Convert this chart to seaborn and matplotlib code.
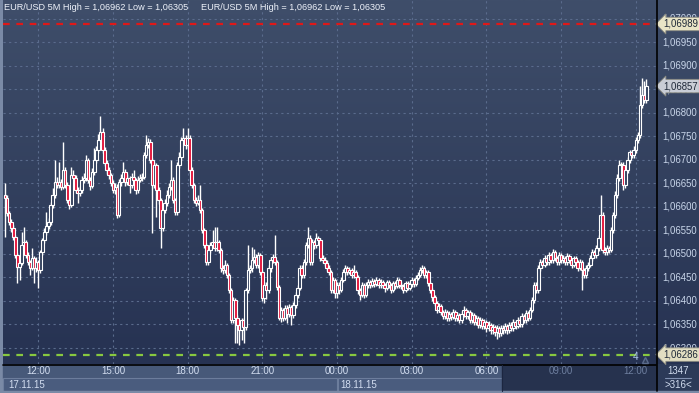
import numpy as np
import matplotlib
matplotlib.use("Agg")
import matplotlib.pyplot as plt
import seaborn as sns
from matplotlib.colors import LinearSegmentedColormap
from matplotlib.patches import Rectangle
from matplotlib.lines import Line2D

sns.set_theme(style="dark")
plt.rcParams['font.family'] = ['Liberation Sans', 'DejaVu Sans']

# ---------------- data (EUR/USD, 5 minute candles, 17.11.15 10:40 -> 18.11.15 12:25)
first_open = 1.06626
close = [1.06619,1.06587,1.06568,1.06555,1.06536,1.06498,1.06472,1.06481,1.06519,1.06526,
1.06498,1.06483,1.06470,1.06491,1.06470,1.06483,1.06466,1.06504,1.06530,1.06547,
1.06560,1.06568,1.06604,1.06626,1.06653,1.06647,1.06653,1.06643,1.06679,1.06647,
1.06615,1.06604,1.06668,1.06662,1.06636,1.06630,1.06636,1.06658,1.06662,1.06700,
1.06658,1.06645,1.06675,1.06700,1.06722,1.06743,1.06760,1.06722,1.06694,1.06679,
1.06668,1.06651,1.06636,1.06643,1.06583,1.06653,1.06662,1.06675,1.06653,1.06662,
1.06647,1.06664,1.06658,1.06636,1.06658,1.06662,1.06664,1.06711,1.06732,1.06739,
1.06700,1.06647,1.06690,1.06636,1.06615,1.06555,1.06594,1.06609,1.06626,1.06643,
1.06658,1.06615,1.06589,1.06690,1.06707,1.06743,1.06747,1.06732,1.06747,1.06679,
1.06647,1.06615,1.06609,1.06615,1.06594,1.06551,1.06519,1.06483,1.06509,1.06519,
1.06526,1.06513,1.06526,1.06509,1.06470,1.06466,1.06477,1.06455,1.06423,1.06359,
1.06402,1.06364,1.06349,1.06338,1.06359,1.06344,1.06423,1.06466,1.06470,1.06487,
1.06494,1.06477,1.06498,1.06462,1.06406,1.06434,1.06423,1.06470,1.06487,1.06494,
1.06483,1.06430,1.06364,1.06381,1.06364,1.06385,1.06372,1.06387,1.06370,1.06391,
1.06413,1.06428,1.06470,1.06455,1.06483,1.06519,1.06534,1.06483,1.06526,1.06519,
1.06534,1.06530,1.06491,1.06487,1.06481,1.06470,1.06462,1.06423,1.06445,1.06417,
1.06434,1.06423,1.06445,1.06462,1.06470,1.06462,1.06466,1.06455,1.06462,1.06451,
1.06423,1.06413,1.06434,1.06413,1.06434,1.06440,1.06434,1.06443,1.06436,1.06445,
1.06434,1.06440,1.06434,1.06428,1.06440,1.06434,1.06423,1.06438,1.06432,1.06445,
1.06434,1.06432,1.06423,1.06438,1.06428,1.06436,1.06445,1.06436,1.06449,1.06455,
1.06466,1.06470,1.06455,1.06462,1.06438,1.06423,1.06408,1.06396,1.06381,1.06389,
1.06376,1.06368,1.06376,1.06364,1.06372,1.06366,1.06376,1.06364,1.06370,1.06359,
1.06372,1.06381,1.06368,1.06376,1.06359,1.06370,1.06355,1.06364,1.06349,1.06359,
1.06347,1.06355,1.06342,1.06349,1.06338,1.06344,1.06334,1.06342,1.06332,1.06342,
1.06338,1.06347,1.06338,1.06349,1.06342,1.06355,1.06347,1.06359,1.06351,1.06368,
1.06359,1.06374,1.06364,1.06381,1.06402,1.06434,1.06423,1.06470,1.06483,1.06477,
1.06491,1.06483,1.06498,1.06487,1.06504,1.06491,1.06483,1.06498,1.06487,1.06491,
1.06483,1.06496,1.06487,1.06477,1.06491,1.06483,1.06470,1.06483,1.06466,1.06455,
1.06470,1.06477,1.06491,1.06504,1.06498,1.06513,1.06534,1.06583,1.06509,1.06504,
1.06513,1.06509,1.06551,1.06583,1.06626,1.06662,1.06690,1.06690,1.06647,1.06679,
1.06700,1.06717,1.06711,1.06722,1.06743,1.06753,1.06817,1.06839,1.06828,1.06857]

high = [1.06651,1.06625,1.06592,1.06575,1.06562,1.06540,1.06502,1.06487,1.06547,1.06558,
1.06530,1.06504,1.06487,1.06513,1.06496,1.06494,1.06487,1.06509,1.06534,1.06555,
1.06589,1.06577,1.06611,1.06640,1.06700,1.06664,1.06696,1.06660,1.06739,1.06685,
1.06653,1.06622,1.06685,1.06679,1.06668,1.06643,1.06645,1.06666,1.06673,1.06711,
1.06705,1.06664,1.06683,1.06726,1.06730,1.06755,1.06794,1.06768,1.06728,1.06700,
1.06685,1.06673,1.06658,1.06651,1.06649,1.06660,1.06670,1.06696,1.06681,1.06670,
1.06666,1.06673,1.06679,1.06662,1.06666,1.06670,1.06673,1.06717,1.06753,1.06747,
1.06745,1.06705,1.06696,1.06694,1.06643,1.06620,1.06600,1.06617,1.06636,1.06651,
1.06700,1.06664,1.06620,1.06696,1.06717,1.06749,1.06768,1.06753,1.06768,1.06753,
1.06685,1.06651,1.06622,1.06626,1.06647,1.06598,1.06555,1.06524,1.06515,1.06526,
1.06551,1.06558,1.06558,1.06530,1.06513,1.06477,1.06487,1.06481,1.06460,1.06428,
1.06408,1.06406,1.06370,1.06355,1.06364,1.06364,1.06428,1.06519,1.06477,1.06515,
1.06511,1.06500,1.06504,1.06502,1.06466,1.06440,1.06440,1.06477,1.06494,1.06500,
1.06540,1.06487,1.06434,1.06387,1.06385,1.06391,1.06391,1.06394,1.06391,1.06398,
1.06419,1.06434,1.06477,1.06477,1.06490,1.06526,1.06558,1.06540,1.06532,1.06530,
1.06545,1.06538,1.06534,1.06498,1.06494,1.06487,1.06477,1.06466,1.06451,1.06449,
1.06440,1.06440,1.06451,1.06468,1.06477,1.06475,1.06472,1.06470,1.06477,1.06466,
1.06455,1.06428,1.06440,1.06438,1.06440,1.06447,1.06445,1.06449,1.06447,1.06451,
1.06449,1.06447,1.06445,1.06438,1.06445,1.06445,1.06438,1.06443,1.06443,1.06451,
1.06449,1.06440,1.06436,1.06443,1.06443,1.06443,1.06451,1.06449,1.06455,1.06462,
1.06472,1.06477,1.06475,1.06466,1.06466,1.06443,1.06428,1.06413,1.06400,1.06396,
1.06394,1.06381,1.06383,1.06381,1.06379,1.06376,1.06383,1.06381,1.06376,1.06374,
1.06379,1.06389,1.06385,1.06381,1.06381,1.06376,1.06374,1.06370,1.06368,1.06366,
1.06364,1.06361,1.06359,1.06357,1.06353,1.06351,1.06349,1.06349,1.06347,1.06349,
1.06349,1.06353,1.06351,1.06355,1.06355,1.06361,1.06359,1.06366,1.06364,1.06374,
1.06372,1.06381,1.06379,1.06387,1.06408,1.06440,1.06440,1.06477,1.06490,1.06487,
1.06498,1.06496,1.06504,1.06502,1.06511,1.06509,1.06496,1.06504,1.06502,1.06498,
1.06496,1.06502,1.06500,1.06491,1.06496,1.06496,1.06487,1.06490,1.06487,1.06470,
1.06477,1.06483,1.06498,1.06511,1.06509,1.06519,1.06540,1.06626,1.06589,1.06515,
1.06519,1.06517,1.06558,1.06590,1.06634,1.06670,1.06700,1.06696,1.06696,1.06685,
1.06707,1.06722,1.06722,1.06730,1.06749,1.06760,1.06858,1.06875,1.06868,1.06871]

low = [1.06536,1.06580,1.06562,1.06547,1.06530,1.06492,1.06438,1.06445,1.06477,1.06513,
1.06492,1.06477,1.06455,1.06466,1.06438,1.06462,1.06428,1.06460,1.06498,1.06524,
1.06540,1.06553,1.06562,1.06598,1.06619,1.06640,1.06640,1.06636,1.06638,1.06640,
1.06609,1.06596,1.06600,1.06655,1.06630,1.06609,1.06624,1.06630,1.06651,1.06655,
1.06651,1.06636,1.06640,1.06668,1.06694,1.06715,1.06736,1.06715,1.06688,1.06670,
1.06660,1.06645,1.06630,1.06628,1.06577,1.06579,1.06645,1.06655,1.06645,1.06647,
1.06630,1.06640,1.06651,1.06628,1.06630,1.06653,1.06655,1.06660,1.06705,1.06726,
1.06694,1.06545,1.06640,1.06579,1.06607,1.06513,1.06549,1.06587,1.06602,1.06619,
1.06636,1.06609,1.06583,1.06583,1.06683,1.06700,1.06736,1.06724,1.06726,1.06673,
1.06640,1.06609,1.06602,1.06604,1.06587,1.06545,1.06513,1.06477,1.06477,1.06502,
1.06513,1.06506,1.06506,1.06502,1.06462,1.06458,1.06460,1.06449,1.06417,1.06353,
1.06353,1.06310,1.06310,1.06306,1.06317,1.06310,1.06338,1.06417,1.06460,1.06462,
1.06481,1.06470,1.06470,1.06455,1.06400,1.06396,1.06404,1.06417,1.06462,1.06481,
1.06477,1.06423,1.06359,1.06355,1.06357,1.06359,1.06353,1.06366,1.06349,1.06364,
1.06385,1.06406,1.06423,1.06449,1.06449,1.06477,1.06513,1.06477,1.06477,1.06511,
1.06513,1.06524,1.06485,1.06481,1.06475,1.06464,1.06455,1.06417,1.06417,1.06406,
1.06406,1.06415,1.06419,1.06440,1.06455,1.06455,1.06458,1.06449,1.06449,1.06445,
1.06415,1.06402,1.06408,1.06406,1.06408,1.06428,1.06428,1.06430,1.06430,1.06432,
1.06428,1.06428,1.06428,1.06419,1.06423,1.06428,1.06417,1.06419,1.06425,1.06428,
1.06428,1.06425,1.06417,1.06419,1.06423,1.06423,1.06430,1.06430,1.06432,1.06445,
1.06451,1.06460,1.06449,1.06449,1.06432,1.06417,1.06400,1.06389,1.06374,1.06376,
1.06370,1.06361,1.06361,1.06357,1.06357,1.06359,1.06361,1.06357,1.06357,1.06353,
1.06353,1.06366,1.06361,1.06361,1.06353,1.06353,1.06349,1.06349,1.06342,1.06342,
1.06340,1.06340,1.06334,1.06336,1.06330,1.06330,1.06325,1.06319,1.06323,1.06325,
1.06330,1.06332,1.06330,1.06332,1.06336,1.06336,1.06340,1.06342,1.06344,1.06344,
1.06353,1.06353,1.06357,1.06359,1.06376,1.06396,1.06417,1.06417,1.06464,1.06470,
1.06472,1.06477,1.06477,1.06481,1.06481,1.06485,1.06477,1.06477,1.06481,1.06481,
1.06477,1.06477,1.06481,1.06470,1.06472,1.06477,1.06464,1.06466,1.06423,1.06449,
1.06449,1.06464,1.06472,1.06485,1.06491,1.06491,1.06506,1.06530,1.06502,1.06498,
1.06498,1.06502,1.06504,1.06545,1.06577,1.06619,1.06655,1.06681,1.06636,1.06640,
1.06673,1.06694,1.06705,1.06705,1.06715,1.06736,1.06747,1.06811,1.06822,1.06822]

time_labels = ["12:00", "15:00", "18:00", "21:00", "00:00", "03:00", "06:00", "09:00", "12:00"]
time_label_candle = [16, 52, 88, 124, 160, 196, 232, 268, 304]
date_labels = ["17.11.15", "18.11.15"]
price_ticks = [1.0630, 1.0635, 1.0640, 1.0645, 1.0650, 1.0655, 1.0660, 1.0665,
               1.0670, 1.0675, 1.0680, 1.0685, 1.0690, 1.0695, 1.0700]
header = "EUR/USD 5M High = 1,06962 Low = 1,06305"
red_level = 1.06989
green_level = 1.06286
last_price = 1.06857
bars_info = ["1347", ">316<"]

# ---------------- layout
W, H = 699, 393
fig = plt.figure(figsize=(W / 100, H / 100), dpi=100)
fig.patch.set_facecolor('#2b3855')

def fx(x):
    return x / W

def fy(y):
    return 1 - y / H

def rect(x0, y0, x1, y1, **kw):
    r = Rectangle((fx(x0), fy(y1)), (x1 - x0) / W, (y1 - y0) / H,
                  transform=fig.transFigure, zorder=-5, **kw)
    fig.patches.append(r)

AX_L, AX_R, AX_T, AX_B = 3, 656, 0, 364
XMIN, XMAX = -0.96, 313.7
YMIN, YMAX = 1.06266, 1.07040
bgcmap = LinearSegmentedColormap.from_list('bg', ['#263252', '#3f4e6a'])

# right price panel (gradient) as its own axes
axr = fig.add_axes([fx(AX_R), fy(AX_B), (W - AX_R) / W, (AX_B - AX_T) / H], zorder=-1)
axr.imshow(np.linspace(0, 1, 256).reshape(-1, 1), cmap=bgcmap, aspect='auto',
           origin='lower', extent=[0, 1, 0, 1])
axr.set_axis_off()

ax = fig.add_axes([fx(AX_L), fy(AX_B), (AX_R - AX_L) / W, (AX_B - AX_T) / H])
for s in ax.spines.values():
    s.set_visible(False)
ax.set_xticks([]); ax.set_yticks([])
ax.set_xlim(XMIN, XMAX)
ax.set_ylim(YMIN, YMAX)

ax.imshow(np.linspace(0, 1, 256).reshape(-1, 1), cmap=bgcmap, aspect='auto',
          origin='lower', extent=[XMIN, XMAX, YMIN, YMAX], zorder=0)

grid_kw = dict(color='#5a6b8c', lw=0.8, ls=(0, (2, 3)), zorder=1)
for p in price_ticks:
    ax.axhline(p, **grid_kw)
for c in time_label_candle:
    ax.axvline(c, **grid_kw)

# candles
opens = np.r_[first_open, np.array(close[:-1])]
c_arr = np.array(close)
h_arr = np.array(high)
l_arr = np.array(low)
idx = np.arange(len(c_arr))
up = c_arr >= opens
ax.vlines(idx, l_arr, h_arr, color='white', lw=1.0, zorder=3)
body_lo = np.minimum(opens, c_arr)
body_h = np.maximum(np.abs(c_arr - opens), 0.000015)
ax.bar(idx, body_h, bottom=body_lo, width=1.25,
       color=np.where(up, '#33415e', '#e3153a'), edgecolor='white',
       linewidth=0.8, zorder=4)

# level lines
ax.axhline(red_level, color='#e01818', lw=1.6, ls=(0, (3, 3)), zorder=5)
ax.axhline(green_level, color='#88c840', lw=1.6, ls=(0, (3, 3)), zorder=5)

# header
for x0 in (4, 201):
    fig.text(fx(x0), fy(8), header, color='#eef2fa', fontsize=6.6,
             va='center', ha='left', zorder=10)

# price labels on the right
for p in price_ticks:
    ax.text(1 + 6 / 653, p, f"{p:.5f}".replace('.', ','), transform=ax.get_yaxis_transform(),
            color='#c9d6ea', fontsize=6.9, va='center', ha='left', clip_on=False, zorder=6)

def tag(p, bg):
    ax.text(1 + 7 / 653, p, f"{p:.5f}".replace('.', ','), transform=ax.get_yaxis_transform(),
            color='#1e2838', fontsize=6.9, va='center', ha='left', clip_on=False, zorder=8,
            bbox=dict(boxstyle='larrow,pad=0.18', fc=bg, ec='#8a8a80', lw=0.6))

tag(red_level, '#e8e4c6')
tag(last_price, '#c9cdd6')
tag(green_level, '#e2dec2')

# frames / bands
rect(0, 0, 3, 393, color='#7a8aa6')
rect(3, 364, 502, 378, color='#475979')
rect(3, 378, 337, 391, fc='#4a5c7e', ec='#6c7d9c', lw=0.8)
rect(338, 378, 502, 391, fc='#4a5c7e', ec='#6c7d9c', lw=0.8)
rect(502, 364, 656, 391, color='#26324e')
rect(657, 364, 699, 391, color='#2c3a58')
rect(0, 391, 699, 393, color='#7a8aa6')
fig.add_artist(Line2D([fx(656.5), fx(656.5)], [fy(0), fy(391)], color='black', lw=1.2, zorder=9))
fig.add_artist(Line2D([fx(3), fx(656)], [fy(364.5), fy(364.5)], color='black', lw=1.2, zorder=9))
fig.add_artist(Line2D([fx(502), fx(502)], [fy(365), fy(391)], color='#1c2640', lw=0.8, zorder=9))

for lab, c in zip(time_labels, time_label_candle):
    dim = c >= 250
    xp = 5 + c * 2.075
    fig.text(fx(xp), fy(371.5), lab, ha='center', va='center', fontsize=7,
             color='#6d7e9e' if dim else '#d2ddf0', zorder=10)

fig.text(fx(8), fy(384.5), date_labels[0], color='#d2ddf0', fontsize=7, va='center', ha='left', zorder=10)
fig.text(fx(340), fy(384.5), date_labels[1], color='#d2ddf0', fontsize=7, va='center', ha='left', zorder=10)

fig.text(fx(678), fy(371.5), bars_info[0], color='#d2ddf0', fontsize=7, va='center', ha='center', zorder=10)
fig.add_artist(Line2D([fx(665), fx(691)], [fy(378), fy(378)], color='#8090b0', lw=0.8, zorder=10))
fig.text(fx(678), fy(384.5), bars_info[1], color='#d2ddf0', fontsize=7, va='center', ha='center', zorder=10)
fig.text(fx(636), fy(357.5), "4", color='#a8c0e8', fontsize=7.2, va='center', ha='center', zorder=10)
fig.add_artist(Line2D([fx(645)], [fy(360)], marker='^', ms=4.5, color='#2f3c58',
                      markeredgecolor='#5a6b8c', lw=0, zorder=10))

fig.savefig("out.png", dpi=100, facecolor=fig.get_facecolor())
